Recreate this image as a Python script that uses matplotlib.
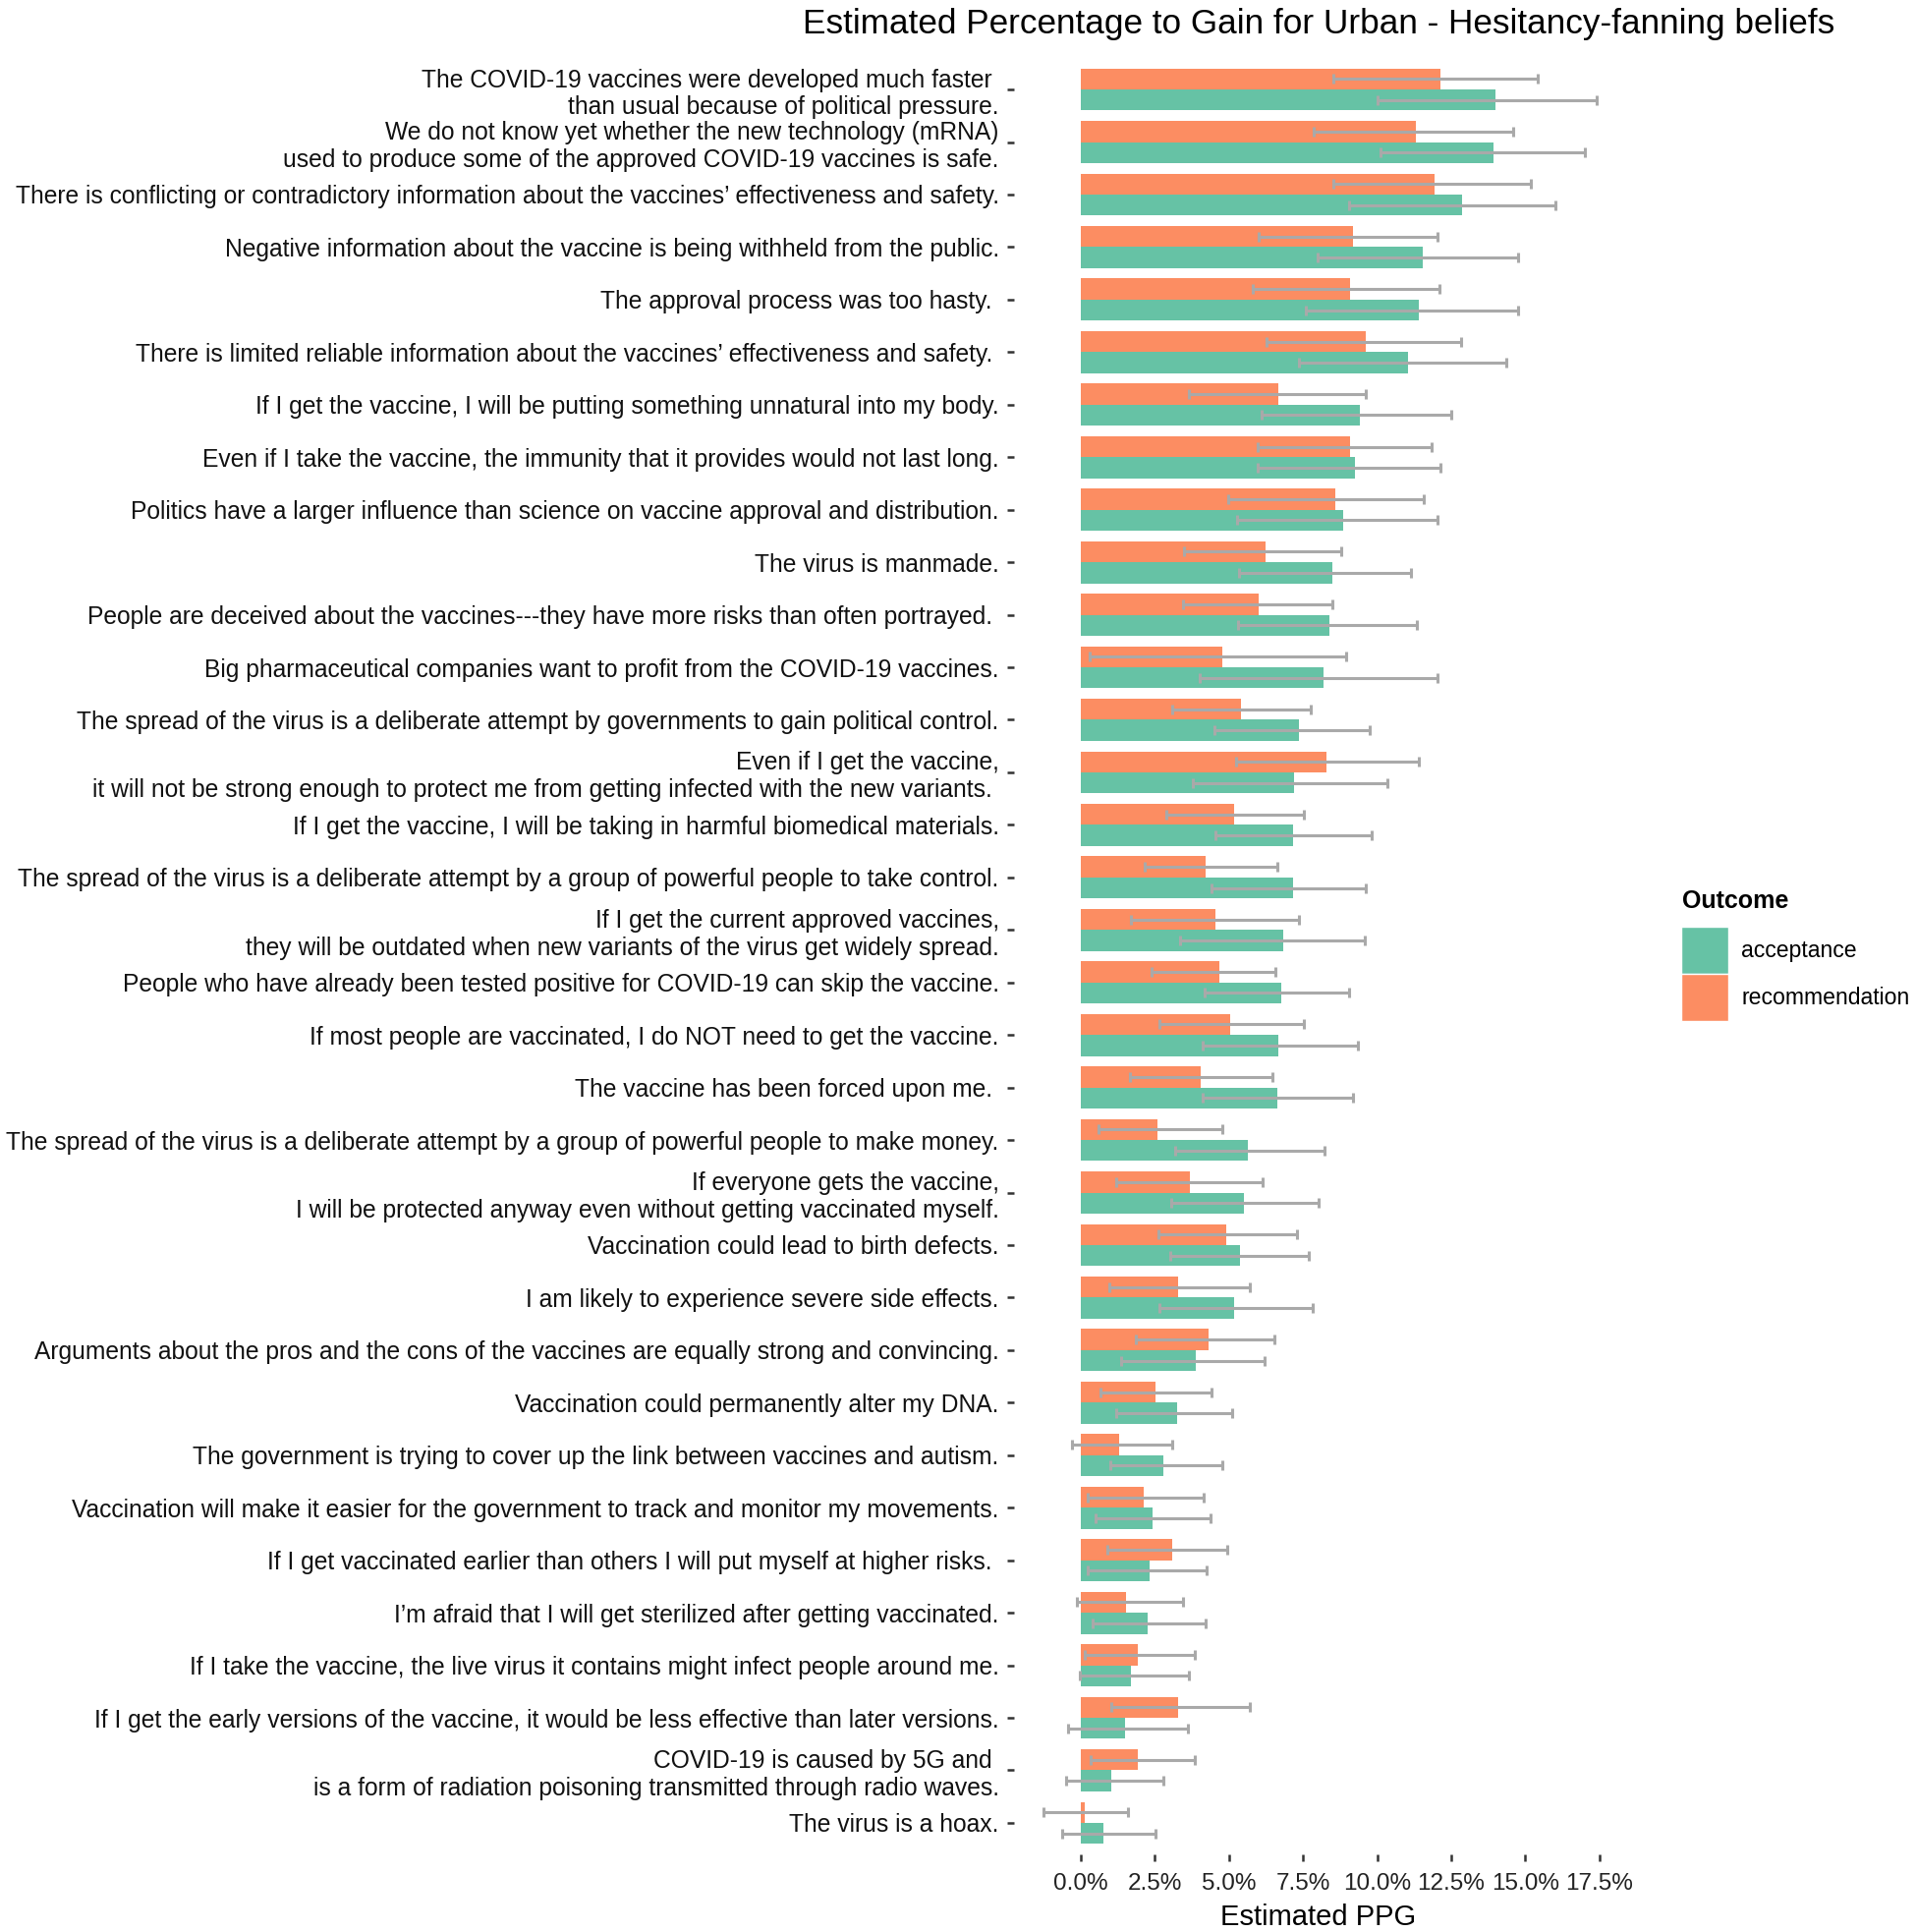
import numpy as np
import matplotlib
matplotlib.use("Agg")
import matplotlib.pyplot as plt
from matplotlib.patches import Patch
from matplotlib.ticker import FuncFormatter

plt.rcParams["font.family"] = ["Liberation Sans", "DejaVu Sans"]

# beliefs, top to bottom
labels = [
    "The COVID-19 vaccines were developed much faster \nthan usual because of political pressure.",
    "We do not know yet whether the new technology (mRNA)\nused to produce some of the approved COVID-19 vaccines is safe.",
    "There is conflicting or contradictory information about the vaccines\u2019 effectiveness and safety.",
    "Negative information about the vaccine is being withheld from the public.",
    "The approval process was too hasty. ",
    "There is limited reliable information about the vaccines\u2019 effectiveness and safety. ",
    "If I get the vaccine, I will be putting something unnatural into my body.",
    "Even if I take the vaccine, the immunity that it provides would not last long.",
    "Politics have a larger influence than science on vaccine approval and distribution.",
    "The virus is manmade.",
    "People are deceived about the vaccines---they have more risks than often portrayed. ",
    "Big pharmaceutical companies want to profit from the COVID-19 vaccines.",
    "The spread of the virus is a deliberate attempt by governments to gain political control.",
    "Even if I get the vaccine,\nit will not be strong enough to protect me from getting infected with the new variants. ",
    "If I get the vaccine, I will be taking in harmful biomedical materials.",
    "The spread of the virus is a deliberate attempt by a group of powerful people to take control.",
    "If I get the current approved vaccines,\nthey will be outdated when new variants of the virus get widely spread.",
    "People who have already been tested positive for COVID-19 can skip the vaccine.",
    "If most people are vaccinated, I do NOT need to get the vaccine.",
    "The vaccine has been forced upon me. ",
    "The spread of the virus is a deliberate attempt by a group of powerful people to make money.",
    "If everyone gets the vaccine,\nI will be protected anyway even without getting vaccinated myself.",
    "Vaccination could lead to birth defects.",
    "I am likely to experience severe side effects.",
    "Arguments about the pros and the cons of the vaccines are equally strong and convincing.",
    "Vaccination could permanently alter my DNA.",
    "The government is trying to cover up the link between vaccines and autism.",
    "Vaccination will make it easier for the government to track and monitor my movements.",
    "If I get vaccinated earlier than others I will put myself at higher risks. ",
    "I\u2019m afraid that I will get sterilized after getting vaccinated.",
    "If I take the vaccine, the live virus it contains might infect people around me.",
    "If I get the early versions of the vaccine, it would be less effective than later versions.",
    "COVID-19 is caused by 5G and \nis a form of radiation poisoning transmitted through radio waves.",
    "The virus is a hoax.",
]

# estimated PPG (%) with interval bounds
rec = [12.15, 11.29, 11.93, 9.19, 9.08, 9.63, 6.65, 9.09, 8.60, 6.24, 5.99, 4.78,
       5.42, 8.29, 5.16, 4.20, 4.56, 4.67, 5.03, 4.05, 2.60, 3.67, 4.92, 3.30,
       4.31, 2.52, 1.30, 2.13, 3.07, 1.54, 1.92, 3.28, 1.92, 0.13]
rec_lo = [8.53, 7.87, 8.53, 5.99, 5.82, 6.28, 3.65, 5.97, 4.99, 3.48, 3.45, 0.30,
          3.09, 5.23, 2.89, 2.15, 1.71, 2.38, 2.67, 1.66, 0.61, 1.19, 2.63, 0.96,
          1.86, 0.66, -0.28, 0.25, 0.90, -0.14, 0.15, 1.02, 0.32, -1.24]
rec_hi = [15.40, 14.58, 15.20, 12.02, 12.10, 12.82, 9.63, 11.84, 11.57, 8.78, 8.49, 8.95,
          7.77, 11.41, 7.54, 6.63, 7.37, 6.57, 7.54, 6.46, 4.78, 6.13, 7.31, 5.72,
          6.52, 4.42, 3.09, 4.14, 4.95, 3.45, 3.86, 5.70, 3.86, 1.60]
acc = [14.00, 13.94, 12.85, 11.53, 11.40, 11.03, 9.42, 9.26, 8.87, 8.49, 8.40, 8.18,
       7.35, 7.20, 7.15, 7.15, 6.82, 6.76, 6.65, 6.63, 5.63, 5.52, 5.38, 5.18,
       3.89, 3.24, 2.78, 2.41, 2.34, 2.27, 1.68, 1.50, 1.04, 0.78]
acc_lo = [10.03, 10.11, 9.04, 7.98, 7.58, 7.35, 6.10, 5.97, 5.28, 5.33, 5.30, 4.03,
          4.51, 3.79, 4.53, 4.42, 3.34, 4.17, 4.12, 4.11, 3.17, 3.06, 3.01, 2.67,
          1.35, 1.19, 0.99, 0.50, 0.25, 0.39, -0.03, -0.42, -0.49, -0.62]
acc_hi = [17.40, 17.00, 16.00, 14.77, 14.77, 14.36, 12.51, 12.15, 12.02, 11.13, 11.35, 12.02,
          9.74, 10.35, 9.83, 9.63, 9.59, 9.06, 9.36, 9.20, 8.21, 8.03, 7.68, 7.84,
          6.19, 5.10, 4.78, 4.38, 4.24, 4.21, 3.66, 3.63, 2.78, 2.52]

outcomes = ["acceptance", "recommendation"]
x_ticks = [0, 2.5, 5, 7.5, 10, 12.5, 15, 17.5]

green = "#66C2A5"
orange = "#FC8D62"
err_col = "#A9A9A9"

fig = plt.figure(figsize=(19.5, 19.66), dpi=100)
ax = fig.add_axes([1032 / 1950, 1 - 1887 / 1966, 620 / 1950, 1828 / 1966])

y = np.arange(len(labels))
h = 0.4
rec = np.array(rec); acc = np.array(acc)
ax.barh(y - h / 2, rec, height=h, color=orange)
ax.barh(y + h / 2, acc, height=h, color=green)

ekw = dict(fmt="none", ecolor=err_col, elinewidth=2.2, capsize=3.6, capthick=2.2)
ax.errorbar(rec, y - h / 2, xerr=[rec - np.array(rec_lo), np.array(rec_hi) - rec], **ekw)
ax.errorbar(acc, y + h / 2, xerr=[acc - np.array(acc_lo), np.array(acc_hi) - acc], **ekw)

ax.set_ylim(len(labels) - 0.4, -0.6)
ax.set_xlim(-2.25, 18.3)
ax.set_yticks(y)
ax.set_yticklabels(labels, fontsize=17.75, color="#111111")
ax.set_xticks(x_ticks)
ax.xaxis.set_major_formatter(FuncFormatter(lambda v, p: f"{v:.1f}%"))
ax.tick_params(axis="x", labelsize=17.5, length=5, width=1.8, color="#333333",
               pad=9, labelcolor="#222222")
ax.tick_params(axis="y", length=5, width=1.8, color="#333333", pad=6)
for s in ax.spines.values():
    s.set_visible(False)

ax.set_xlabel("Estimated PPG", fontsize=21, labelpad=6)
ax.set_title("Estimated Percentage to Gain for Urban - Hesitancy-fanning beliefs",
             fontsize=25.3, pad=18)

# legend
fig.text(1712 / 1950, 1 - 917 / 1966, "Outcome", fontsize=18, fontweight="bold",
         ha="left", va="center")
handles = [Patch(facecolor=green, edgecolor="white", label=outcomes[0]),
           Patch(facecolor=orange, edgecolor="white", label=outcomes[1])]
fig.legend(handles=handles, loc="upper left",
           bbox_to_anchor=(1711 / 1950, 1 - 943 / 1966), frameon=False,
           fontsize=16.6, handlelength=2.1, handleheight=2.83,
           labelspacing=0.0, handletextpad=0.55, borderpad=0, borderaxespad=0)

fig.savefig("out.png", dpi=100)
